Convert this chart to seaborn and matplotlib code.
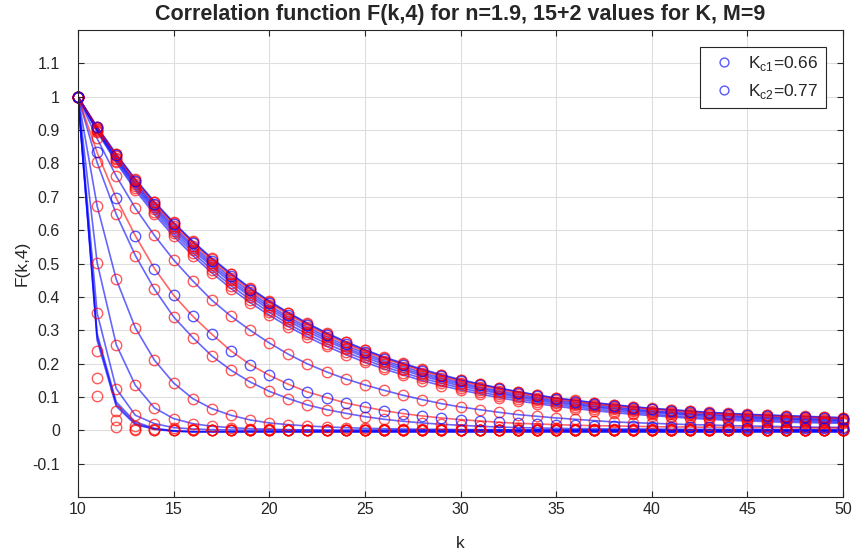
import pandas as pd
import matplotlib.pyplot as plt
import seaborn as sns

k = list(range(10, 51))

# slow group: eight curves that almost overlap (read top to bottom)
slow_a = [1.000, 0.910, 0.828, 0.753, 0.685, 0.623, 0.567, 0.516, 0.470, 0.427,
          0.388, 0.353, 0.321, 0.292, 0.266, 0.242, 0.220, 0.201, 0.183, 0.167,
          0.152, 0.139, 0.127, 0.116, 0.106, 0.097, 0.090, 0.083, 0.077, 0.071,
          0.066, 0.062, 0.058, 0.054, 0.051, 0.048, 0.046, 0.044, 0.042, 0.040,
          0.038]
slow_b = [1.000, 0.909, 0.827, 0.751, 0.683, 0.621, 0.565, 0.514, 0.468, 0.425,
          0.386, 0.351, 0.319, 0.290, 0.264, 0.240, 0.218, 0.199, 0.181, 0.165,
          0.150, 0.138, 0.126, 0.115, 0.105, 0.096, 0.089, 0.082, 0.076, 0.070,
          0.065, 0.061, 0.057, 0.053, 0.050, 0.047, 0.045, 0.043, 0.041, 0.039,
          0.037]
kc2_vals = [1.000, 0.908, 0.824, 0.748, 0.679, 0.617, 0.561, 0.509, 0.463, 0.420,
            0.382, 0.347, 0.315, 0.286, 0.260, 0.236, 0.215, 0.196, 0.178, 0.162,
            0.147, 0.135, 0.123, 0.112, 0.102, 0.093, 0.086, 0.079, 0.073, 0.068,
            0.063, 0.059, 0.055, 0.051, 0.048, 0.045, 0.043, 0.041, 0.039, 0.037,
            0.035]
slow_c = [1.000, 0.906, 0.821, 0.743, 0.674, 0.611, 0.554, 0.503, 0.457, 0.414,
          0.375, 0.340, 0.309, 0.280, 0.254, 0.231, 0.209, 0.191, 0.173, 0.157,
          0.143, 0.130, 0.118, 0.108, 0.098, 0.090, 0.083, 0.076, 0.070, 0.064,
          0.059, 0.055, 0.051, 0.048, 0.045, 0.042, 0.040, 0.038, 0.036, 0.035,
          0.033]
slow_d = [1.000, 0.903, 0.817, 0.738, 0.668, 0.605, 0.548, 0.496, 0.450, 0.407,
          0.369, 0.334, 0.303, 0.274, 0.248, 0.225, 0.204, 0.185, 0.168, 0.152,
          0.138, 0.126, 0.114, 0.103, 0.094, 0.086, 0.079, 0.072, 0.066, 0.061,
          0.056, 0.052, 0.048, 0.045, 0.042, 0.039, 0.037, 0.035, 0.033, 0.032,
          0.030]
slow_e = [1.000, 0.901, 0.813, 0.733, 0.662, 0.598, 0.541, 0.490, 0.443, 0.401,
          0.362, 0.328, 0.296, 0.268, 0.243, 0.219, 0.198, 0.180, 0.163, 0.147,
          0.133, 0.121, 0.110, 0.099, 0.090, 0.082, 0.075, 0.069, 0.063, 0.057,
          0.053, 0.049, 0.045, 0.041, 0.038, 0.036, 0.034, 0.032, 0.031, 0.029,
          0.028]
slow_f = [1.000, 0.898, 0.808, 0.727, 0.655, 0.590, 0.533, 0.481, 0.434, 0.392,
          0.354, 0.319, 0.288, 0.260, 0.235, 0.212, 0.191, 0.173, 0.156, 0.141,
          0.127, 0.115, 0.104, 0.094, 0.085, 0.077, 0.070, 0.064, 0.058, 0.053,
          0.048, 0.044, 0.040, 0.037, 0.034, 0.032, 0.030, 0.028, 0.027, 0.026,
          0.024]
slow_g = [1.000, 0.895, 0.803, 0.720, 0.647, 0.582, 0.524, 0.472, 0.425, 0.383,
          0.345, 0.311, 0.280, 0.252, 0.227, 0.204, 0.184, 0.166, 0.149, 0.134,
          0.121, 0.109, 0.098, 0.088, 0.080, 0.072, 0.065, 0.059, 0.053, 0.048,
          0.044, 0.040, 0.036, 0.033, 0.030, 0.028, 0.026, 0.024, 0.023, 0.022,
          0.021]

# faster curves
mid_a = [1.000, 0.875, 0.762, 0.666, 0.584, 0.511, 0.448, 0.390, 0.342, 0.300,
         0.262, 0.228, 0.199, 0.175, 0.154, 0.136, 0.120, 0.105, 0.092, 0.080,
         0.070, 0.062, 0.054, 0.047, 0.042, 0.037, 0.033, 0.029, 0.025, 0.023,
         0.021, 0.019, 0.017, 0.016, 0.014, 0.013, 0.012, 0.011, 0.010, 0.009,
         0.009]
kc1_vals = [1.000, 0.833, 0.696, 0.583, 0.485, 0.405, 0.342, 0.288, 0.238, 0.197,
            0.165, 0.138, 0.115, 0.098, 0.082, 0.070, 0.059, 0.050, 0.043, 0.037,
            0.032, 0.028, 0.024, 0.021, 0.019, 0.017, 0.015, 0.014, 0.013, 0.012,
            0.011, 0.010, 0.010, 0.009, 0.009, 0.008, 0.008, 0.008, 0.007, 0.007,
            0.007]
mid_b = [1.000, 0.803, 0.648, 0.524, 0.423, 0.340, 0.278, 0.223, 0.180, 0.145,
         0.117, 0.095, 0.076, 0.062, 0.051, 0.041, 0.033, 0.027, 0.022, 0.018,
         0.015, 0.012, 0.010, 0.008, 0.007, 0.006, 0.005, 0.005, 0.004, 0.004,
         0.004, 0.003, 0.003, 0.003, 0.003, 0.003, 0.002, 0.002, 0.002, 0.002,
         0.002]
fast_a = [1.000, 0.673, 0.453, 0.307, 0.210, 0.142, 0.095, 0.065, 0.045, 0.031,
          0.022, 0.017, 0.013, 0.010, 0.008, 0.006, 0.005, 0.004, 0.003, 0.003,
          0.002, 0.002, 0.002, 0.001, 0.001, 0.001, 0.001, 0.001, 0.001, 0.001,
          0.000, 0.000, 0.000, 0.000, 0.000, 0.000, 0.000, 0.000, 0.000, 0.000,
          0.000]
fast_b = [1.000, 0.503, 0.257, 0.135, 0.067, 0.035, 0.020, 0.012, 0.008, 0.005,
          0.003, 0.002, 0.001, 0.000, 0.000, 0.000, 0.000, 0.000, 0.000, 0.000,
          0.000, 0.000, 0.000, 0.000, 0.000, 0.000, 0.000, 0.000, 0.000, 0.000,
          0.000, 0.000, 0.000, 0.000, 0.000, 0.000, 0.000, 0.000, 0.000, 0.000,
          0.000]
fast_c = [1.000, 0.352, 0.125, 0.045, 0.020, 0.008, 0.004, 0.002, 0.001, 0.000,
          0.000, 0.000, 0.000, 0.000, 0.000, 0.000, 0.000, 0.000, 0.000, 0.000,
          0.000, 0.000, 0.000, 0.000, 0.000, 0.000, 0.000, 0.000, 0.000, 0.000,
          0.000, 0.000, 0.000, 0.000, 0.000, 0.000, 0.000, 0.000, 0.000, 0.000,
          0.000]
fast_d = [1.000, 0.238, 0.057, 0.012, 0.004, 0.001, 0.000, 0.000, 0.000, 0.000,
          0.000, 0.000, 0.000, 0.000, 0.000, 0.000, 0.000, 0.000, 0.000, 0.000,
          0.000, 0.000, 0.000, 0.000, 0.000, 0.000, 0.000, 0.000, 0.000, 0.000,
          0.000, 0.000, 0.000, 0.000, 0.000, 0.000, 0.000, 0.000, 0.000, 0.000,
          0.000]
fast_e = [1.000, 0.158, 0.030, 0.005, 0.001, 0.000, 0.000, 0.000, 0.000, 0.000,
          0.000, 0.000, 0.000, 0.000, 0.000, 0.000, 0.000, 0.000, 0.000, 0.000,
          0.000, 0.000, 0.000, 0.000, 0.000, 0.000, 0.000, 0.000, 0.000, 0.000,
          0.000, 0.000, 0.000, 0.000, 0.000, 0.000, 0.000, 0.000, 0.000, 0.000,
          0.000]
fast_f = [1.000, 0.102, 0.010, 0.002, 0.000, 0.000, 0.000, 0.000, 0.000, 0.000,
          0.000, 0.000, 0.000, 0.000, 0.000, 0.000, 0.000, 0.000, 0.000, 0.000,
          0.000, 0.000, 0.000, 0.000, 0.000, 0.000, 0.000, 0.000, 0.000, 0.000,
          0.000, 0.000, 0.000, 0.000, 0.000, 0.000, 0.000, 0.000, 0.000, 0.000,
          0.000]

# fitted lines of the three fastest curves do not go through their points
fast_d_fit = [1.000, 0.290, 0.085, 0.025, 0.006, -0.001, -0.004, -0.004, -0.004, -0.004,
              -0.004, -0.004, -0.004, -0.004, -0.004, -0.004, -0.004, -0.004, -0.004, -0.004,
              -0.004, -0.004, -0.004, -0.004, -0.004, -0.004, -0.004, -0.004, -0.004, -0.004,
              -0.004, -0.004, -0.004, -0.004, -0.004, -0.004, -0.004, -0.004, -0.004, -0.004,
              -0.004]
fast_e_fit = [1.000, 0.280, 0.078, 0.020, 0.004, -0.002, -0.004, -0.004, -0.004, -0.004,
              -0.004, -0.004, -0.004, -0.004, -0.004, -0.004, -0.004, -0.004, -0.004, -0.004,
              -0.004, -0.004, -0.004, -0.004, -0.004, -0.004, -0.004, -0.004, -0.004, -0.004,
              -0.004, -0.004, -0.004, -0.004, -0.004, -0.004, -0.004, -0.004, -0.004, -0.004,
              -0.004]
fast_f_fit = [1.000, 0.270, 0.072, 0.017, 0.003, -0.003, -0.005, -0.005, -0.005, -0.005,
              -0.005, -0.005, -0.005, -0.005, -0.005, -0.005, -0.005, -0.005, -0.005, -0.005,
              -0.005, -0.005, -0.005, -0.005, -0.005, -0.005, -0.005, -0.005, -0.005, -0.005,
              -0.005, -0.005, -0.005, -0.005, -0.005, -0.005, -0.005, -0.005, -0.005, -0.005,
              -0.005]

xticks = [10, 15, 20, 25, 30, 35, 40, 45, 50]
yticks = [-0.1, 0, 0.1, 0.2, 0.3, 0.4, 0.5, 0.6, 0.7, 0.8, 0.9, 1, 1.1]
ytick_labels = ['-0.1', '0', '0.1', '0.2', '0.3', '0.4', '0.5', '0.6',
                '0.7', '0.8', '0.9', '1', '1.1']
legend_labels = [r'K$_{\mathrm{c1}}$=0.66', r'K$_{\mathrm{c2}}$=0.77']

# name -> (points, fitted line)
regular = {
    'slow_a': (slow_a, slow_a), 'slow_b': (slow_b, slow_b),
    'slow_c': (slow_c, slow_c), 'slow_d': (slow_d, slow_d),
    'slow_e': (slow_e, slow_e), 'slow_f': (slow_f, slow_f),
    'slow_g': (slow_g, slow_g), 'mid_a': (mid_a, mid_a),
    'mid_b': (mid_b, mid_b), 'fast_a': (fast_a, fast_a),
    'fast_b': (fast_b, fast_b), 'fast_c': (fast_c, fast_c),
    'fast_d': (fast_d, fast_d_fit), 'fast_e': (fast_e, fast_e_fit),
    'fast_f': (fast_f, fast_f_fit),
}
critical = {'kc1': (kc1_vals, kc1_vals), 'kc2': (kc2_vals, kc2_vals)}

fit_rows, pt_rows = [], []
for name, (pts, fit) in list(regular.items()) + list(critical.items()):
    for kk, p, f in zip(k, pts, fit):
        fit_rows.append({'k': kk, 'F': f, 'curve': name})
        pt_rows.append({'k': kk, 'F': p, 'curve': name})
fit_df = pd.DataFrame(fit_rows)
pt_df = pd.DataFrame(pt_rows)
line_colors = {n: 'blue' for n in regular}
line_colors.update({n: 'red' for n in critical})

sns.set_style("whitegrid", rc={'axes.edgecolor': '#262626', 'grid.color': '#dedede',
                               'axes.linewidth': 0.8})
plt.rcParams['font.family'] = ['Liberation Sans', 'DejaVu Sans']
plt.rcParams['mathtext.fontset'] = 'custom'
plt.rcParams['mathtext.rm'] = 'Liberation Sans'

fig = plt.figure(figsize=(8.55, 5.59), dpi=100)
ax = fig.add_axes([0.0912, 0.1109, 0.8948, 0.8354])

sns.lineplot(data=fit_df, x='k', y='F', hue='curve', palette=line_colors,
             errorbar=None, linewidth=1.2, alpha=0.6, legend=False, ax=ax)

sns.lineplot(data=pt_df[pt_df['curve'].isin(regular)], x='k', y='F', units='curve',
             estimator=None, marker='o', linestyle='', markersize=7.5,
             markerfacecolor='none', markeredgecolor='red', markeredgewidth=1.0,
             alpha=0.65, clip_on=False, legend=False, ax=ax)

for name, lab in zip(['kc1', 'kc2'], legend_labels):
    sub = pt_df[pt_df['curve'] == name]
    sns.lineplot(x=sub['k'], y=sub['F'], marker='o', linestyle='', markersize=7.5,
                 color='blue', markerfacecolor='none', markeredgecolor='blue',
                 markeredgewidth=1.0, alpha=0.65, clip_on=False, label=lab, ax=ax)

ax.set_xlim(10, 50)
ax.set_ylim(-0.2, 1.2)
ax.set_xticks(xticks)
ax.set_yticks(yticks)
ax.set_yticklabels(ytick_labels)
ax.tick_params(direction='in', length=4, width=0.8, color='#262626',
               labelcolor='#262626', labelsize=11.5,
               bottom=True, left=True, top=True, right=True)
ax.tick_params(axis='y', pad=13)
ax.set_xlabel('k', fontsize=12.5, color='#262626', labelpad=14)
ax.set_ylabel('F(k,4)', fontsize=12.5, color='#262626', labelpad=2)
ax.set_title('Correlation function F(k,4) for n=1.9, 15+2 values for K, M=9',
             fontsize=15.5, fontweight='bold', pad=7)

handles, labels = ax.get_legend_handles_labels()
leg = ax.legend(handles, labels, loc='upper right', fontsize=12.5, fancybox=False,
                framealpha=1, edgecolor='#262626', borderaxespad=1.0,
                handletextpad=0.4, numpoints=1, markerscale=0.85)
leg.get_frame().set_linewidth(0.8)

plt.savefig('out.png', dpi=100)
plt.close()
